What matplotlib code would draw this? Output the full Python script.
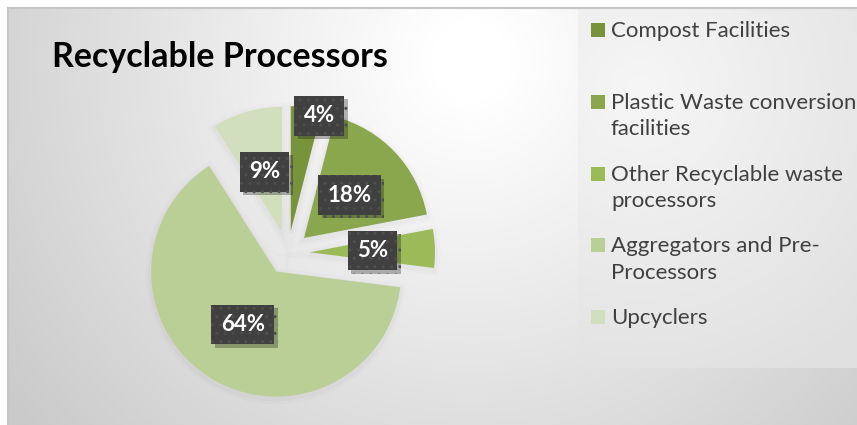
import textwrap
import numpy as np
import matplotlib.pyplot as plt
import matplotlib.patheffects as pe
from matplotlib.patches import Rectangle

categories = ["Compost Facilities",
              "Plastic Waste conversion facilities",
              "Other Recyclable waste processors",
              "Aggregators and Pre-Processors",
              "Upcyclers"]
shares = [4, 18, 5, 64, 9]
colors = ["#77933c", "#8aa74e", "#9bbb59", "#bacf95", "#d1dfbe"]

# label placement (fraction of radius from the slice tip, small pixel nudges)
label_dist = [0.93, 0.5, 0.5, 0.5, 0.5]
label_nudge = [(14, 0), (0, 0), (0, 0), (0, 0), (0, 0)]

W, H = 857, 425
plt.rcParams['font.family'] = ['Lato', 'DejaVu Sans']
plt.rcParams['hatch.linewidth'] = 1.0

fig = plt.figure(figsize=(W / 100, H / 100), dpi=100)
ax = fig.add_axes([0, 0, 1, 1])

# chart area background: soft radial gradient
yy, xx = np.mgrid[0:H + 4, 0:W + 4]
d = np.hypot(xx - 470, yy - 60)
v = 1 - 0.21 * np.clip((d - 40) / 540, 0, 1)
# legend panel has its own lighter fill
inpanel = (xx >= 578) & (yy >= 8) & (yy <= 367)
d2 = np.hypot(xx - 640, yy - 90)
v2 = 0.965 - 0.085 * np.clip(d2 / 320, 0, 1)
v = np.where(inpanel, v2, v)
v[:8, :] = 1
v[:, :8] = 1
img = np.dstack([v, v, v])
ax.imshow(img, extent=(0, W + 4, -4, H), origin='upper', zorder=0,
          interpolation='nearest')
ax.plot([8, 8], [-4, H - 8], color="#c6c6c6", lw=1.5, zorder=1)
ax.plot([8, W + 4], [H - 8, H - 8], color="#c6c6c6", lw=1.5, zorder=1)

cx, cy, R = 288, 172, 125
explode = [22] * len(shares)

# soft shadow under the slices
for lw, a in [(8, 0.012), (4, 0.02)]:
    ax.pie(shares, startangle=90, counterclock=False, radius=R,
           center=(cx, cy - 2), explode=explode,
           wedgeprops=dict(fc='none', ec=(0, 0, 0, a), lw=lw, zorder=2))

wedges, _ = ax.pie(shares, colors=colors, startangle=90, counterclock=False,
                   radius=R, center=(cx, cy), explode=explode,
                   wedgeprops=dict(lw=0, zorder=3))

for w, val, dist, (nx, ny) in zip(wedges, shares, label_dist, label_nudge):
    ang = np.deg2rad((w.theta1 + w.theta2) / 2)
    x = w.center[0] + dist * w.r * np.cos(ang) + nx
    y = w.center[1] + dist * w.r * np.sin(ang) + ny
    t = ax.text(x, y, f"{val}%", ha='center', va='center', color='white',
                fontsize=16, fontweight='bold', zorder=5,
                bbox=dict(boxstyle='square,pad=0.42', fc='#404040',
                          ec='#4e4e4e', lw=0, hatch='..'))
    t.get_bbox_patch().set_path_effects(
        [pe.SimplePatchShadow(offset=(2.5, -2.5), alpha=0.3), pe.Normal()])

ax.text(52, H - 67, "Recyclable Processors", fontsize=24.5, fontweight='bold',
        color='black', ha='left', va='baseline', zorder=5)

# legend, drawn by hand so every entry gets the same slot height
for i, (name, c) in enumerate(zip(categories, colors)):
    yc = H - (30 + 71.8 * i)
    ax.add_patch(Rectangle((591, yc - 7), 14, 14, fc=c, lw=0, zorder=5))
    ax.text(611, yc + 9, textwrap.fill(name, 24), fontsize=16,
            color='#404040', ha='left', va='top', linespacing=1.4,
            zorder=5)

ax.set_xlim(0, W)
ax.set_ylim(0, H)
ax.set_aspect('auto')
ax.axis('off')

fig.savefig("out.png", dpi=100)
